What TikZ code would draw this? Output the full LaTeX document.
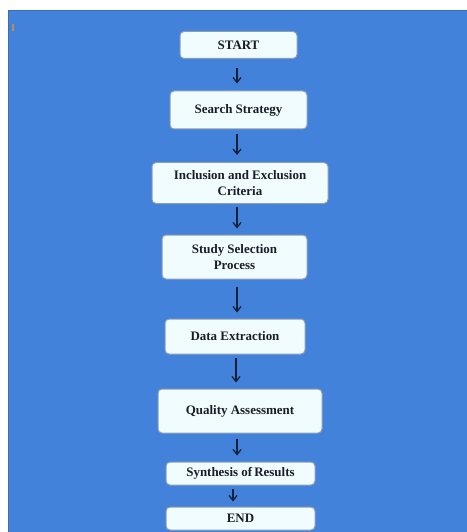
\documentclass[tikz,border=0pt]{standalone}
\usepackage{fontspec}
\setmainfont{Liberation Serif}
\usetikzlibrary{arrows.meta}
\definecolor{bgblue}{HTML}{4282DA}
\definecolor{bgedge}{HTML}{3A6CB5}
\definecolor{boxfill}{HTML}{F0FCFE}
\definecolor{boxedge}{HTML}{8C9CB2}
\definecolor{arrcol}{HTML}{15203A}
\definecolor{txtcol}{HTML}{1A1C28}
\definecolor{markcol}{HTML}{B89048}
\tikzset{
  stepbox/.style={draw=boxedge, line width=1bp, fill=boxfill, rounded corners=4bp,
    inner sep=0pt, align=center, text=txtcol,
    font=\bfseries\fontsize{13}{15.5}\selectfont},
  flowarr/.style={draw=arrcol, line width=1.3bp, -{Straight Barb[length=5bp,width=8bp]}},
}
\begin{document}
\begin{tikzpicture}[x=1bp,y=-1bp]
\useasboundingbox (0,0) rectangle (467,532);
\fill[white] (0,0) rectangle (467,532);
\fill[bgblue] (8,10) rectangle (467,532);
\draw[bgedge, line width=1bp] (8.5,532) -- (8.5,10.5) -- (467,10.5);
\fill[markcol] (12,24) rectangle (14,31);

\node[stepbox, minimum width=117bp, minimum height=27bp] (start) at (238.5,45) {START};
\node[stepbox, minimum width=137bp, minimum height=38bp] (search) at (238.5,110) {Search Strategy};
\node[stepbox, minimum width=176bp, minimum height=41bp] (incl) at (240,183) {Inclusion and Exclusion\\Criteria};
\node[stepbox, minimum width=145bp, minimum height=44bp] (study) at (234.5,257) {Study Selection\\Process};
\node[stepbox, minimum width=140bp, minimum height=35bp] (data) at (235,336.5) {Data Extraction};
\node[stepbox, minimum width=164bp, minimum height=44bp] (qual) at (240,411) {Quality Assessment};
\node[stepbox, minimum width=149bp, minimum height=23bp] (synth) at (240.5,473.5) {Synthesis of\,Results};
\node[stepbox, minimum width=149bp, minimum height=23bp] (end) at (240.5,518.5) {END};

\coordinate (ax) at (237,0);
\coordinate (ay) at (236,0);
\coordinate (az) at (233,0);
\draw[flowarr, shorten <=9bp, shorten >=7bp] (start.south -| ax) -- (search.north -| ax);
\draw[flowarr, shorten <=5bp, shorten >=7bp] (search.south -| ax) -- (incl.north -| ax);
\draw[flowarr, shorten <=3bp, shorten >=6bp] (incl.south -| ax) -- (study.north -| ax);
\draw[flowarr, shorten <=7bp, shorten >=6bp] (study.south -| ax) -- (data.north -| ax);
\draw[flowarr, shorten <=3bp, shorten >=6bp] (data.south -| ay) -- (qual.north -| ay);
\draw[flowarr, shorten <=5bp, shorten >=6bp] (qual.south -| ax) -- (synth.north -| ax);
\draw[flowarr, shorten <=3bp, shorten >=5bp] (synth.south -| az) -- (end.north -| az);
\end{tikzpicture}
\end{document}
